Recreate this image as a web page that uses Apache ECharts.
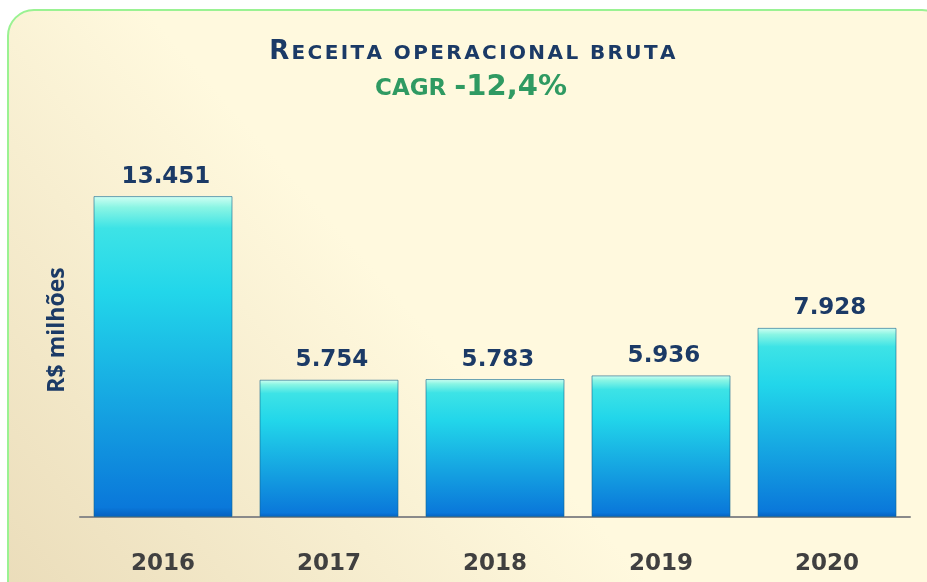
<!DOCTYPE html>
<html>
<head>
<meta charset="utf-8">
<script src="https://cdn.jsdelivr.net/npm/echarts@6/dist/echarts.min.js"></script>
<style>
  html, body { margin: 0; padding: 0; background: #ffffff; }
  #chart { width: 927px; height: 582px; }
</style>
</head>
<body>
<div id="chart"></div>
<script>
// values (R$ milhões)
const years = ['2016', '2017', '2018', '2019', '2020']
const receita = [13451, 5754, 5783, 5936, 7928]
const titleMain = 'RECEITA OPERACIONAL BRUTA'
const cagrLabel = 'CAGR'
const cagrValue = '-12,4%'
const yName = 'R$ milhões'

// 13451 -> "13.451"
const fmt = v => String(v).replace(/\B(?=(\d{3})+(?!\d))/g, '.')

// small caps with a bit of letter spacing: first letter big, the rest small
const spaced = s => s.split('').map((c, i) => (i === 0 ? '{big|' : '{sm|') + c + '}').join('')

const chart = echarts.init(document.getElementById('chart'))

const barColor = new echarts.graphic.LinearGradient(0, 0, 0, 1, [
  { offset: 0, color: '#d2fff4' },
  { offset: 0.035, color: '#8af5e4' },
  { offset: 0.1, color: '#3de3e6' },
  { offset: 0.3, color: '#22d6ea' },
  { offset: 0.97, color: '#0a78da' },
  { offset: 1, color: '#0660c0' }
])

chart.setOption({
  animation: false,
  graphic: [
    {
      type: 'rect',
      z: -10,
      shape: { x: 8, y: 10, width: 940, height: 600, r: 26 },
      style: {
        fill: new echarts.graphic.LinearGradient(0, 1, 0.4, 0.45, [
          { offset: 0, color: '#eadcb9' },
          { offset: 1, color: '#fff9de' }
        ]),
        stroke: '#9af292',
        lineWidth: 2
      }
    },
    {
      type: 'text',
      x: 473,
      y: 52,
      style: {
        text: spaced(titleMain),
        align: 'center',
        verticalAlign: 'middle',
        rich: {
          big: { fontFamily: 'DejaVu Sans', fontWeight: 'bold', fontSize: 26, fill: '#1b3a66', padding: [0, 1, 0, 0] },
          sm: { fontFamily: 'DejaVu Sans', fontWeight: 'bold', fontSize: 20, fill: '#1b3a66', padding: [3, 1.2, 0, 1.2] }
        }
      }
    },
    {
      type: 'text',
      x: 471,
      y: 87,
      style: {
        text: '{lab|' + cagrLabel + ' }{val|' + cagrValue + '}',
        align: 'center',
        verticalAlign: 'middle',
        rich: {
          lab: { fontFamily: 'DejaVu Sans', fontWeight: 'bold', fontSize: 23, fill: '#2f9a62', padding: [4, 0, 0, 0] },
          val: { fontFamily: 'DejaVu Sans', fontWeight: 'bold', fontSize: 29, fill: '#2f9a62' }
        }
      }
    },
    {
      type: 'text',
      x: 57,
      y: 330,
      rotation: Math.PI / 2,
      style: {
        text: yName,
        fontFamily: 'Open Sans',
        fontWeight: 'bold',
        fontSize: 23,
        fill: '#1b3a66',
        align: 'center',
        verticalAlign: 'middle'
      }
    }
  ],
  grid: { left: 80, right: 17, top: 183, bottom: 65, containLabel: false, outerBoundsMode: 'none' },
  xAxis: {
    type: 'category',
    data: years,
    axisLine: { lineStyle: { color: '#8a8a8a', width: 2 } },
    axisTick: { length: 6, lineStyle: { color: '#8a8a8a', width: 2 } },
    axisLabel: {
      margin: 36,
      fontFamily: 'DejaVu Sans',
      fontWeight: 'bold',
      fontSize: 23,
      color: '#404040'
    }
  },
  yAxis: {
    type: 'value',
    min: 0,
    max: 14000,
    axisLine: { show: false },
    axisTick: { show: false },
    axisLabel: { show: false },
    splitLine: { show: false }
  },
  series: [
    {
      type: 'bar',
      data: receita,
      barWidth: 139,
      itemStyle: {
        color: barColor,
        borderColor: 'rgba(20, 100, 140, 0.6)',
        borderWidth: 1
      },
      label: {
        show: true,
        position: 'top',
        distance: 8,
        offset: [3, 0],
        formatter: p => fmt(p.value),
        fontFamily: 'DejaVu Sans',
        fontWeight: 'bold',
        fontSize: 23,
        color: '#1b3a66'
      }
    }
  ]
})
</script>
</body>
</html>
